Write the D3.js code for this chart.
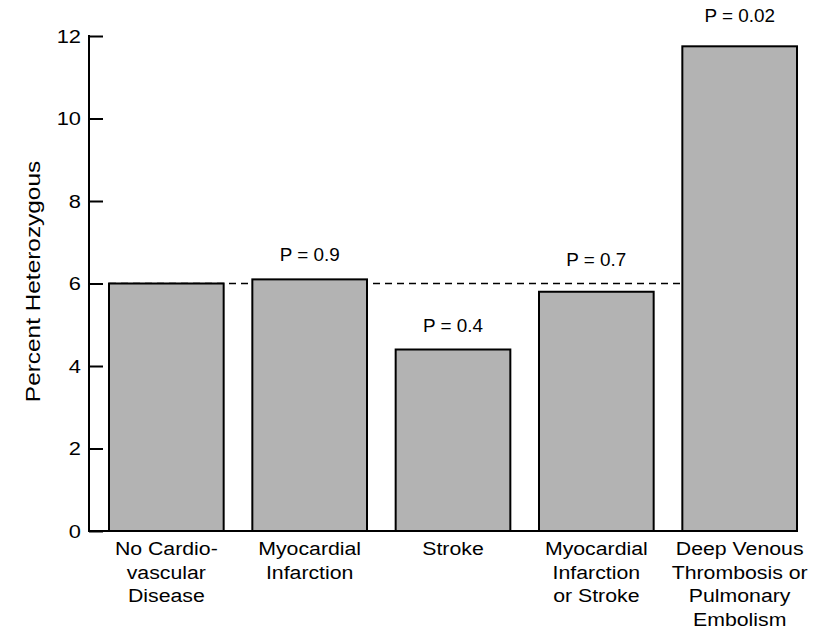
<!DOCTYPE html>
<meta charset="utf-8">
<script src="https://d3js.org/d3.v7.min.js"></script>
<style>
  body { margin: 0; background: #fff; }
  text { font-family: "Liberation Sans", Arial, sans-serif; fill: #000; }
</style>
<div id="chart"></div>
<script>
// data
var categories = [
  ["No Cardio-", "vascular", "Disease"],
  ["Myocardial", "Infarction"],
  ["Stroke"],
  ["Myocardial", "Infarction", "or Stroke"],
  ["Deep Venous", "Thrombosis or", "Pulmonary", "Embolism"]
];
var values = [6.0, 6.1, 4.4, 5.8, 11.75];
var pLabels = [null, "P = 0.9", "P = 0.4", "P = 0.7", "P = 0.02"];
var refValue = 6.0;
var yTicks = [0, 2, 4, 6, 8, 10, 12];

var width = 821, height = 630;
var axisX = 89, plotRight = 797, plotTop = 36, plotBottom = 531;
var stretch = 1.12; // the original lettering is a little wider than Arial

var svg = d3.select("#chart").append("svg")
    .attr("width", width)
    .attr("height", height);

var x = d3.scaleBand()
    .domain(d3.range(categories.length))
    .range([109, plotRight])
    .paddingInner(0.2)
    .paddingOuter(0);

var y = d3.scaleLinear()
    .domain([0, 12])
    .range([plotBottom, plotTop]);

// reference line at the control value
svg.append("line")
    .attr("x1", x(0))
    .attr("x2", x(4))
    .attr("y1", y(refValue))
    .attr("y2", y(refValue))
    .style("stroke", "#000")
    .style("stroke-width", 1.5)
    .style("stroke-dasharray", "7,5");

// bars
svg.selectAll("rect.bar")
  .data(values)
  .enter()
  .append("rect")
    .attr("class", "bar")
    .attr("x", function(d, i) { return x(i); })
    .attr("y", function(d) { return y(d); })
    .attr("width", x.bandwidth())
    .attr("height", function(d) { return y(0) - y(d); })
    .style("fill", "#b3b3b3")
    .style("stroke", "#000")
    .style("stroke-width", 2);

// P value labels: above the bar, or above the dashed line when the bar sits just under it
function labelBase(i) {
  var v = values[i];
  if (v < refValue && refValue - v < 0.5) v = refValue;
  return v;
}

svg.selectAll("text.p")
  .data(pLabels)
  .enter()
  .filter(function(d) { return d !== null; })
  .append("text")
    .attr("class", "p")
    .attr("transform", function(d) {
      var i = pLabels.indexOf(d);
      var gap = values[i] > 10 ? 24 : 18;
      return "translate(" + (x(i) + x.bandwidth() / 2) + "," + (y(labelBase(i)) - gap) + ") scale(1.05,1)";
    })
    .attr("text-anchor", "middle")
    .style("font-size", "18px")
    .text(function(d) { return d; });

// y axis
var yAxis = svg.append("g")
    .attr("transform", "translate(" + axisX + ",0)")
    .call(d3.axisRight(y).tickValues(yTicks).tickSize(14));
yAxis.select(".domain").remove();
yAxis.selectAll(".tick line").style("stroke", "#000").style("stroke-width", 2);
yAxis.selectAll(".tick text")
    .attr("text-anchor", "end")
    .attr("x", 0)
    .attr("transform", "translate(-8,0) scale(1.15,1)")
    .style("font-size", "19px")
    .style("font-family", "'Liberation Sans', Arial, sans-serif");

svg.append("line")
    .attr("x1", axisX).attr("x2", axisX)
    .attr("y1", plotTop - 1).attr("y2", plotBottom)
    .style("stroke", "#000").style("stroke-width", 2);

svg.append("line")
    .attr("x1", axisX - 1).attr("x2", plotRight)
    .attr("y1", plotBottom).attr("y2", plotBottom)
    .style("stroke", "#000").style("stroke-width", 2);

// category labels
var catLabels = svg.selectAll("text.cat")
  .data(categories)
  .enter()
  .append("text")
    .attr("class", "cat")
    .attr("text-anchor", "middle")
    .attr("transform", function(d, i) {
      return "translate(" + (x(i) + x.bandwidth() / 2) + "," + plotBottom + ") scale(" + stretch + ",1)";
    })
    .style("font-size", "19px");

catLabels.selectAll("tspan")
  .data(function(d) { return d; })
  .enter()
  .append("tspan")
    .attr("x", 0)
    .attr("y", function(d, j) { return 24.5 + j * 23.5; })
    .text(function(d) { return d; });

// y axis title
svg.append("text")
    .attr("transform", "translate(40," + ((plotTop + plotBottom) / 2 - 2) + ") rotate(-90) scale(1.22,1)")
    .attr("text-anchor", "middle")
    .style("font-size", "20px")
    .text("Percent Heterozygous");
</script>
